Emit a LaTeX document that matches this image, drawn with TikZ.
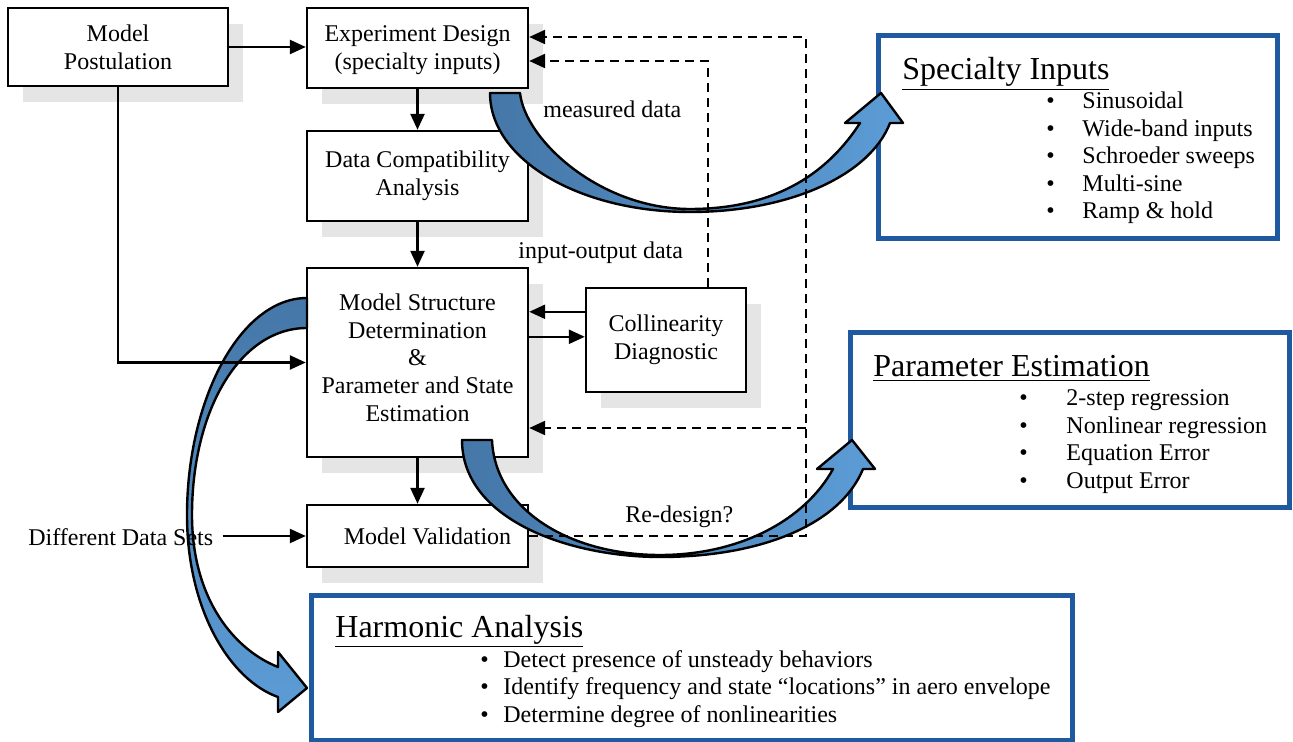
\documentclass[tikz,border=0pt]{standalone}
\usepackage{fontspec}
\setmainfont{Liberation Serif}
\usetikzlibrary{arrows.meta,shadows}
\definecolor{shgray}{RGB}{229,229,229}
\definecolor{bbord}{RGB}{31,89,160}
\definecolor{adark}{RGB}{69,119,168}
\definecolor{alight}{RGB}{92,156,214}
\begin{document}
\begin{tikzpicture}[x=0.5pt,y=-0.5pt,
  every node/.style={font=\fontsize{12}{13.8}\selectfont, inner sep=0pt},
  box/.style={draw, line width=1.2pt, fill=white, align=center,
    general shadow={fill=shgray, shadow xshift=7.5pt, shadow yshift=-8pt}},
  bbox/.style={draw=bbord, line width=2.5pt, fill=white},
  arr/.style={-{Triangle[length=8pt,width=7pt]}, line width=1.2pt},
  dsh/.style={arr, dash pattern=on 4.5pt off 3pt},
  blk/.style={draw=black, line width=1.2pt, line join=round},
  lbl/.style={anchor=base west},
  hdr/.style={anchor=base west, font=\fontsize{16}{18}\selectfont},
]
\useasboundingbox (0,0) rectangle (1293,742);

% process boxes
\node[box, minimum width=110pt, minimum height=39pt] (mp) at (118,47) {Model\\Postulation};
\node[box, minimum width=110.5pt, minimum height=40pt] (ed) at (417.5,48) {\rule{0pt}{10pt}Experiment Design\\(specialty inputs)};
\node[box, minimum width=110.5pt, minimum height=45pt] (dca) at (417.5,176) {Data Compatibility\\Analysis};
\node[box, minimum width=110.5pt, minimum height=94.5pt] (msd) at (417.5,362.5) {Model Structure\\Determination\\\&\\Parameter and State\\Estimation\\[-8.8pt]\mbox{}};
\node[box, minimum width=80pt, minimum height=52pt] (col) at (666,340) {Collinearity\\Diagnostic};
\node[box, minimum width=110.5pt, minimum height=31pt] (mv) at (417.5,536) {\hspace{10pt}Model Validation};

% blue boxes
\node[bbox, minimum width=199.5pt, minimum height=101.5pt] (si) at (1077.5,137.5) {};
\node[bbox, minimum width=219.5pt, minimum height=87pt] (pe) at (1069.5,420) {};
\node[bbox, minimum width=380.5pt, minimum height=72.5pt] (ha) at (691.5,667.5) {};

% block arrows
\draw[blk, left color=adark, right color=alight]
  (490,93) .. controls (490,160) and (580,212) .. (690,212)
  .. controls (790,212) and (870,175) .. (890,123)
  -- (903,123) -- (881,93) -- (845,123) -- (860,123)
  .. controls (820,185) and (760,209) .. (690,209)
  .. controls (600,209) and (525,140) .. (520,93) -- cycle;
\draw[blk, left color=adark, right color=alight]
  (462,440) .. controls (462,520) and (570,557) .. (660,557)
  .. controls (760,557) and (840,525) .. (863,469)
  -- (875,469) -- (852,440) -- (817,469) -- (833,469)
  .. controls (805,520) and (740,555) .. (660,555)
  .. controls (570,555) and (495,510) .. (492,440) -- cycle;
\draw[blk, top color=adark, bottom color=alight]
  (307,298) .. controls (240,298) and (187,400) .. (187,515)
  .. controls (187,610) and (230,680) .. (278,697)
  -- (278,712) -- (307,688) -- (278,652) -- (278,667)
  .. controls (235,650) and (192,600) .. (192,515)
  .. controls (192,410) and (240,328) .. (307,328) -- cycle;

% labels
\node[lbl] (md) at (543,118) {measured data};
\node[lbl] (iod) at (518,259) {input-output data};
\node[lbl] (rd) at (625,522) {Re-design?};
\node[lbl] (dds) at (28,545) {Different Data Sets};

% solid connectors
\draw[arr] (mp.east) -- (mp.east -| ed.west);
\draw[arr] (ed) -- (dca);
\draw[arr] (dca) -- (msd);
\draw[arr] (msd) -- (mv);
\draw[arr] (mp.south) |- (msd.west);
\draw[arr, shorten <=4.5pt] (dds.east |- mv.west) -- (mv.west);
\coordinate (c1) at ([yshift=-12.5pt]col.north west);
\coordinate (c2) at ([yshift=-25pt]col.north west);
\draw[arr] (c1) -- (c1 -| msd.east);
\draw[arr] (c2 -| msd.east) -- (c2);

% dashed connectors
\coordinate (d1) at ([xshift=21pt]col.north);
\coordinate (e1) at ([yshift=-6.5pt]ed.east);
\coordinate (e2) at ([yshift=5.5pt]ed.east);
\coordinate (rt) at (806,37);
\coordinate (rm) at (806,428);
\draw[dsh] (d1) |- (e1);
\draw[dsh] (mv.east) -| (rt) -- (e2);
\draw[dsh] (rm) -- (rm -| msd.east);

% headers
\node[hdr] (sit) at (902,80) {\underline{Specialty Inputs}};
\node[hdr] (pet) at (873,377) {\underline{Parameter Estimation}};
\node[hdr] (hat) at (335,637) {\underline{Harmonic Analysis}};

% bullets
\foreach \t [count=\i] in {Sinusoidal, Wide-band inputs, Schroeder sweeps, Multi-sine, Ramp \& hold} {
  \node[lbl] (sib\i) at (1046,{109+27.5*(\i-1)}) {\textbullet};
  \node[lbl] (sit\i) at (1082,{109+27.5*(\i-1)}) {\t};
}
\foreach \t [count=\i] in {2-step regression, Nonlinear regression, Equation Error, Output Error} {
  \node[lbl] (peb\i) at (1019,{406+27.4*(\i-1)}) {\textbullet};
  \node[lbl] (pet\i) at (1066,{406+27.4*(\i-1)}) {\t};
}
\foreach \t [count=\i] in {Detect presence of unsteady behaviors, Identify frequency and state “locations” in aero envelope, Determine degree of nonlinearities} {
  \node[lbl] (hab\i) at (480,{667+27.5*(\i-1)}) {\textbullet};
  \node[lbl] (hat\i) at (503,{667+27.5*(\i-1)}) {\t};
}
\end{tikzpicture}
\end{document}
